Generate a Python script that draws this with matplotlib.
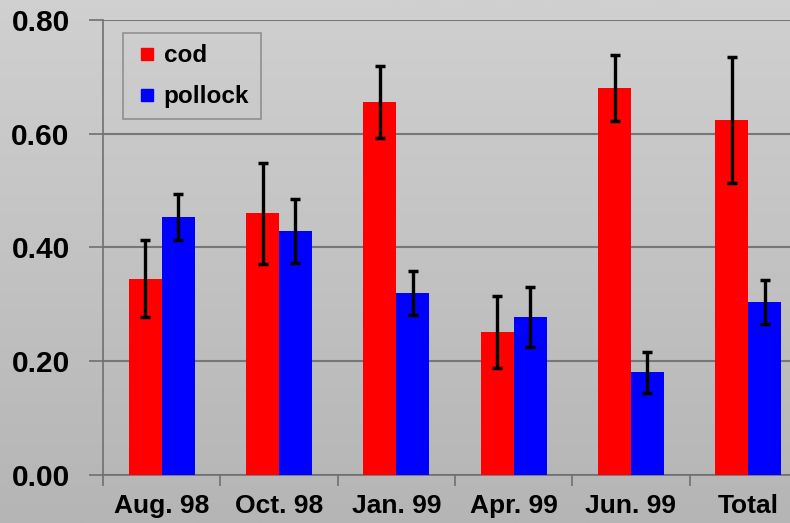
import numpy as np
import matplotlib
matplotlib.use("Agg")
import matplotlib.pyplot as plt
from matplotlib.lines import Line2D

# survey periods and mean values with error half-widths
periods = ["Aug. 98", "Oct. 98", "Jan. 99", "Apr. 99", "Jun. 99", "Total"]
cod = [0.345, 0.460, 0.656, 0.251, 0.680, 0.624]
cod_err = [0.068, 0.089, 0.063, 0.063, 0.058, 0.111]
pollock = [0.454, 0.429, 0.320, 0.278, 0.181, 0.304]
pollock_err = [0.040, 0.057, 0.038, 0.053, 0.036, 0.039]
yticks = [0.0, 0.2, 0.4, 0.6, 0.8]
cod_color = '#ff0000'
pollock_color = '#0000ff'

plt.rcParams['font.family'] = ['Liberation Sans', 'DejaVu Sans']
plt.rcParams['font.weight'] = 'bold'

fig = plt.figure(figsize=(7.9, 5.23), dpi=100)

# grey vertical gradient behind everything
bg = fig.add_axes([0, 0, 1, 1], zorder=0)
grad = np.linspace(0, 1, 256).reshape(-1, 1)
bg.imshow(grad, aspect='auto', cmap=matplotlib.colors.LinearSegmentedColormap.from_list(
    'bg', ['#d0d0d0', '#b5b5b5']), extent=[0, 1, 0, 1])
bg.axis('off')

ax = fig.add_axes([0.1304, 0.0918, 0.8911, 0.870], zorder=1)
ax.set_facecolor('none')

x = np.arange(len(periods))
w = 0.28
errkw = dict(ecolor='black', elinewidth=2.4, capsize=3.5, capthick=2.5)
ax.bar(x - w / 2, cod, w, color=cod_color, zorder=3,
       yerr=cod_err, error_kw=errkw)
ax.bar(x + w / 2, pollock, w, color=pollock_color, zorder=3,
       yerr=pollock_err, error_kw=errkw)

ax.set_xlim(-0.5, len(periods) - 0.5)
ax.set_ylim(0, 0.8)
ax.set_yticks(yticks)
ax.set_yticklabels(["{:.2f}".format(v) for v in yticks], fontsize=21.5, fontweight='bold')
ax.yaxis.grid(True, color='#777777', linewidth=1.5, zorder=1)
ax.set_axisbelow(True)

# ticks sit between categories, labels at the centres
ax.set_xticks(np.arange(len(periods) + 1) - 0.5)
ax.set_xticklabels([])
ax.set_xticks(x, minor=True)
ax.set_xticklabels(periods, minor=True, fontsize=19, fontweight='bold')
ax.tick_params(axis='x', which='major', length=8, width=1.2, color='#707070')
ax.tick_params(axis='x', which='minor', length=0, pad=14)
ax.tick_params(axis='y', length=10, width=1.2, color='#707070', pad=14)

for side in ['top', 'right']:
    ax.spines[side].set_visible(False)
for side in ['left', 'bottom']:
    ax.spines[side].set_color('#707070')
    ax.spines[side].set_linewidth(1.2)

# small square swatches for the legend
handles = [Line2D([], [], linestyle='none', marker='s', markersize=8.5,
                  markerfacecolor=c, markeredgecolor=c)
           for c in (cod_color, pollock_color)]
leg = ax.legend(handles, ['cod', 'pollock'], loc='upper left',
                bbox_to_anchor=(0.0284, 0.9714), borderaxespad=0, fontsize=17.5,
                frameon=True, fancybox=False, handlelength=1.07,
                handletextpad=0.15, labelspacing=0.74, borderpad=0.46)
leg.get_frame().set_facecolor('none')
leg.get_frame().set_edgecolor('#808080')
leg.get_frame().set_linewidth(1.2)
for t in leg.get_texts():
    t.set_fontweight('bold')

fig.savefig('out.png', dpi=100)
